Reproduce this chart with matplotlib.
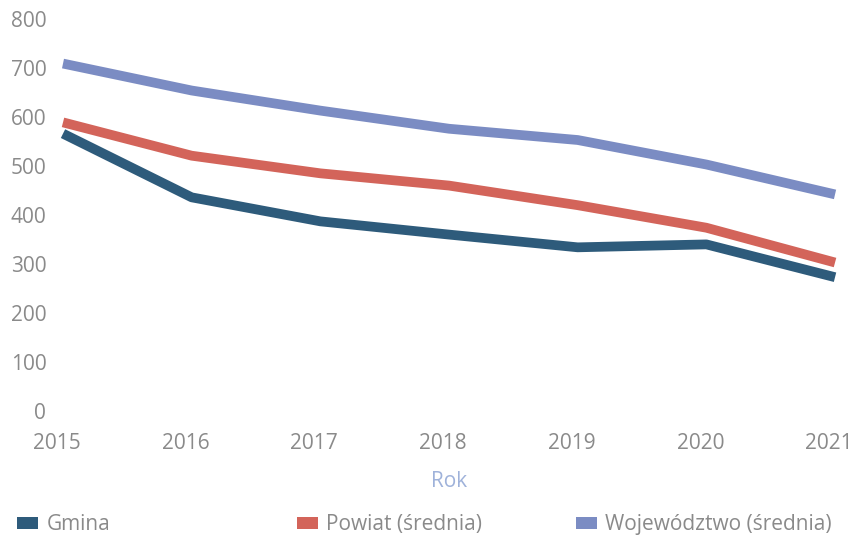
import matplotlib.pyplot as plt
from matplotlib.patches import Patch
from matplotlib.transforms import ScaledTranslation

plt.rcParams['font.family'] = ['Open Sans', 'DejaVu Sans']

years = [2015, 2016, 2017, 2018, 2019, 2020, 2021]
gmina = [566, 436, 387, 360, 334, 340, 273]
powiat = [589, 521, 485, 460, 420, 374, 303]
wojewodztwo = [709, 654, 613, 576, 553, 503, 442]

labels = ['Gmina', 'Powiat (średnia)', 'Województwo (średnia)']
colors = ['#2e5b7b', '#d3645a', '#7b8cc3']
yticks = [0, 100, 200, 300, 400, 500, 600, 700, 800]

fig = plt.figure(figsize=(8.56, 5.42), dpi=100)
ax = fig.add_axes([0.0736, 0.2417, 0.9019, 0.7233])

for vals, col in zip([gmina, powiat, wojewodztwo], colors):
    ax.plot(years, vals, color=col, lw=7, solid_capstyle='butt',
            solid_joinstyle='round', clip_on=False)

ax.set_xlim(2015, 2021)
ax.set_ylim(0, 800)
ax.set_yticks(yticks)
ax.set_xticks(years)
for s in ax.spines.values():
    s.set_visible(False)
ax.tick_params(length=0, labelsize=15, labelcolor='#8a8a8a')
ax.tick_params(axis='y', pad=12)
ax.tick_params(axis='x', pad=16)
# year labels sit a little left of their points in the original
shift = ScaledTranslation(-6 / 100, 0, fig.dpi_scale_trans)
for lbl in ax.get_xticklabels():
    lbl.set_transform(lbl.get_transform() + shift)
ax.set_xlabel('Rok', fontsize=15, color='#9fb2da', labelpad=12)

# three fixed-slot legend entries
xs = [0.020, 0.347, 0.673]
for lab, col, x in zip(labels, colors, xs):
    leg = fig.legend(handles=[Patch(facecolor=col, edgecolor='none')], labels=[lab],
                     loc='center left', bbox_to_anchor=(x, 0.032), frameon=False,
                     fontsize=15, handlelength=1.0, handleheight=0.5,
                     handletextpad=0.4, borderaxespad=0, borderpad=0)
    for t in leg.get_texts():
        t.set_color('#8a8a8a')

fig.savefig('out.png', dpi=100)
